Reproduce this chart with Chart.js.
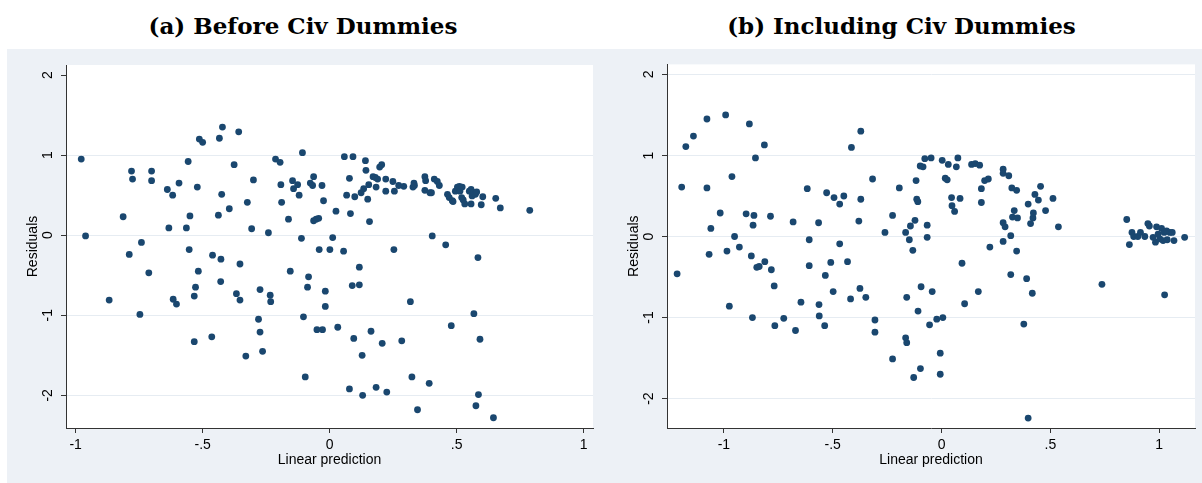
<!DOCTYPE html>
<html>
<head>
<meta charset="utf-8">
<script src="https://cdn.jsdelivr.net/npm/chart.js@4.4.1/dist/chart.umd.min.js"></script>
<style>
  html, body { margin: 0; padding: 0; background: #fff; }
  body { width: 1202px; height: 483px; position: relative; overflow: hidden; }
  .frame { position: absolute; left: 7px; top: 49px; width: 1195px; height: 434px; background: #edf1f6; }
  .title { position: absolute; top: 8px; text-align: center; font-family: "DejaVu Serif", serif;
           font-weight: bold; font-size: 23px; line-height: 36px; color: #000; }
  canvas { position: absolute; top: 49px; }
</style>
</head>
<body>
<div class="frame"></div>
<div class="title" style="left:0;width:606px">(a) Before Civ Dummies</div>
<div class="title" style="left:601px;width:601px">(b) Including Civ Dummies</div>
<canvas id="before" width="594" height="434" style="left:7px"></canvas>
<canvas id="civ" width="601" height="434" style="left:601px"></canvas>
<script>
const xTicks = [-1, -0.5, 0, 0.5, 1];
const xTickLabels = ['-1', '-.5', '0', '.5', '1'];
const yTicks = [-2, -1, 0, 1, 2];
const yTickLabels = ['-2', '-1', '0', '1', '2'];

// (a) before civ dummies
const beforeX = [
  -0.978, -0.961, -0.868, -0.813, -0.789, -0.780, -0.776, -0.747, -0.741, -0.712,
  -0.701, -0.701, -0.639, -0.633, -0.618, -0.616, -0.603, -0.593, -0.564, -0.557,
  -0.553, -0.550, -0.533, -0.533, -0.528, -0.521, -0.517, -0.513, -0.500, -0.464,
  -0.461, -0.438, -0.434, -0.429, -0.428, -0.425, -0.422, -0.395, -0.376, -0.367,
  -0.358, -0.353, -0.353,
  -0.330, -0.324, -0.307, -0.300, -0.280, -0.274, -0.274, -0.264, -0.241, -0.234,
  -0.232, -0.213, -0.195, -0.192, -0.189, -0.162, -0.155, -0.146, -0.142, -0.126,
  -0.120, -0.111, -0.107, -0.103, -0.096, -0.087, -0.083, -0.076, -0.067, -0.063,
  -0.063, -0.053, -0.043, -0.041, -0.050, -0.030, -0.028, -0.024, -0.017, -0.017,
  0.001, 0.012, 0.025, 0.032, 0.055, 0.058, 0.067, 0.078, 0.078, 0.082,
  0.089, 0.092, 0.095, 0.099, 0.117, 0.117, 0.124, 0.128, 0.130, 0.134,
  0.141, 0.143, 0.150, 0.154, 0.157, 0.163, 0.171, 0.180, 0.183, 0.183,
  0.189, 0.197, 0.205, 0.207, 0.221, 0.221, 0.225, 0.249, 0.253, 0.255,
  0.272, 0.284, 0.292, 0.318, 0.324, 0.328, 0.332, 0.334, 0.346,
  0.375, 0.378, 0.375, 0.392, 0.395, 0.401, 0.404, 0.412, 0.424, 0.432,
  0.457, 0.464, 0.471, 0.479, 0.483, 0.486, 0.495, 0.503, 0.511, 0.513,
  0.520, 0.522, 0.526, 0.532, 0.550, 0.557, 0.557, 0.561, 0.566, 0.568,
  0.574, 0.576, 0.579, 0.584, 0.586, 0.592, 0.597, 0.603, 0.645, 0.654,
  0.672, 0.788
];
const beforeY = [
  0.95, -0.01, -0.81, 0.23, -0.24, 0.80, 0.70, -0.99, -0.09, -0.47,
  0.80, 0.68, 0.57, 0.09, 0.50, -0.80, -0.86, 0.65, 0.09, 0.92,
  -0.18, 0.24, -0.76, -1.33, -0.65, 0.60, -0.45, 1.20, 1.16, -1.27,
  -0.25, 0.25, 1.21, -0.58, -0.30, 0.51, 1.35, 0.33, 0.88, -0.73,
  1.29, -0.36, -0.81,
  -1.51, 0.41, 0.08, 0.69, -1.05, -0.68, -1.21, -1.45, 0.03, -0.75,
  -0.83, 0.95, 0.91, 0.63, 0.41, 0.20, -0.45, 0.68, 0.58, 0.63,
  0.50, -0.04, 1.03, -1.02, -1.77, -0.65, -0.52, 0.65, 0.62, 0.73,
  0.18, 0.20, 0.21, -0.18, -1.18, 0.62, -1.18, 0.43, -0.70, -0.89,
  -0.18, -0.03, 0.30, -1.15, -0.20, 0.98, 0.50, 0.71, -1.92, 0.27,
  -0.63, 0.98, -1.29, 0.48, -0.40, -0.62, 0.53, -1.50, -2.00, 0.58,
  0.93, 0.81, 0.45, 0.63, 0.17, -1.20, 0.73, 0.72, -1.90, 0.60,
  0.70, 0.85, 0.88, -1.35, 0.70, 0.55, -1.96, 0.67, -0.18, 0.55,
  0.62, -1.32, 0.61, -0.83, -1.77, 0.60, 0.65, 0.62, -2.18,
  0.73, 0.68, 0.56, -1.85, 0.53, 0.53, -0.01, 0.70, 0.67, 0.62,
  -0.12, 0.51, 0.47, -1.13, 0.43, 0.42, 0.55, 0.60, 0.61, 0.55,
  0.47, 0.60, 0.44, 0.39, 0.55, 0.57, 0.39, 0.49, 0.53, -0.98,
  0.51, -2.13, 0.54, -0.28, -1.99, -1.30, 0.38, 0.48, -2.28, 0.46,
  0.34, 0.31
];

// (b) including civ dummies
const civX = [
  -1.215, -1.194, -1.175, -1.140, -1.078, -1.078, -1.068, -1.060, -1.017, -0.992,
  -0.986, -0.975, -0.963, -0.951, -0.929, -0.898, -0.883, -0.874, -0.869, -0.866,
  -0.862, -0.855, -0.849, -0.838, -0.814, -0.812, -0.786, -0.782, -0.769, -0.766,
  -0.725, -0.682, -0.671, -0.646, -0.617, -0.608, -0.608, -0.565, -0.563, -0.562,
  -0.537, -0.534, -0.528, -0.509, -0.498, -0.494,
  -0.468, -0.468, -0.449, -0.432, -0.418, -0.414, -0.380, -0.375, -0.371, -0.371,
  -0.348, -0.317, -0.306, -0.306, -0.260, -0.225, -0.225, -0.194, -0.165, -0.160,
  -0.165, -0.160, -0.148, -0.143, -0.132, -0.128, -0.122, -0.117, -0.114, -0.109,
  -0.108, -0.098, -0.097, -0.094, -0.085, -0.077, -0.066, -0.066, -0.055, -0.048,
  -0.043, -0.022, -0.006, -0.006, 0.003, 0.006, 0.017, 0.026, 0.031, 0.046,
  0.048, 0.060, 0.068, 0.075, 0.085, 0.094, 0.106, 0.138, 0.155, 0.169,
  0.175, 0.183, 0.183, 0.198, 0.215, 0.222, 0.283, 0.283, 0.283, 0.283,
  0.292, 0.309, 0.318, 0.318,
  0.323, 0.345, 0.334, 0.326, 0.349, 0.345, 0.378, 0.391, 0.398, 0.398,
  0.409, 0.417, 0.420, 0.422, 0.429, 0.445, 0.455, 0.478, 0.512, 0.537,
  0.737, 0.851, 0.863, 0.875, 0.883, 0.902, 0.914, 0.934, 0.948, 0.955,
  0.972, 0.983, 0.988, 0.995, 1.003, 1.011, 1.018, 1.023, 1.025, 1.034,
  1.037, 1.049, 1.060, 1.068, 1.117
];
const civY = [
  -0.46, 0.61, 1.11, 1.24, 1.45, 0.60, -0.22, 0.10, 0.29, 1.50,
  -0.18, -0.86, 0.74, 0.00, -0.13, 0.28, 1.39, -0.24, -1.00, 0.14,
  0.26, 0.97, -0.38, -0.37, 1.13, -0.31, 0.25, -0.41, -0.61, -1.10,
  -1.01, 0.18, -1.16, -0.81, 0.59, -0.04, -0.36, 0.17, -0.84, -0.98,
  -1.10, -0.48, 0.54, -0.32, -0.68, 0.48,
  0.40, -0.09, 0.50, -0.31, -0.77, 1.10, 0.19, -0.64, 1.30, 0.46,
  -0.75, 0.71, -1.03, -1.18, 0.05, 0.26, -1.51, 0.60, 0.05, -0.75,
  -1.25, -1.31, -0.04, 0.13, -0.17, -1.74, 0.20, 0.69, 0.46, 0.43,
  -0.92, 0.87, -1.63, -0.62, 0.86, 0.96, 0.14, -0.01, -1.09, 0.97,
  -0.68, -1.02, -1.44, -1.70, 0.94, -1.00, 0.72, 0.70, 0.89, 0.48,
  0.38, 0.31, 0.86, 0.97, 0.47, -0.33, -0.83, 0.89, 0.90, -0.68,
  0.88, 0.59, 0.42, 0.69, 0.71, -0.13, 0.83, 0.78, 0.17, -0.06,
  0.12, 0.75, -0.47, 0.01,
  0.60, 0.57, 0.32, 0.24, 0.23, -0.18, -1.08, -0.52, 0.40, -2.24,
  0.16, -0.70, 0.23, 0.29, 0.52, 0.45, 0.62, 0.32, 0.47, 0.12,
  -0.59, 0.21, -0.10, 0.05, 0.00, 0.00, 0.05, 0.00, 0.16, 0.13,
  -0.01, -0.07, 0.12, 0.03, -0.03, 0.10, -0.05, 0.05, -0.72, 0.07,
  -0.04, 0.05, 0.05, -0.05, -0.01
];

const navy = '#1a476f';
const axisCol = '#333';
const gridCol = '#e6ecf2';
const tickFont = { family: '"Liberation Sans", Arial, sans-serif', size: 14, lineHeight: 1.2 };
const titleFont = { family: '"Liberation Sans", Arial, sans-serif', size: 14, lineHeight: 1.2 };

const plotBg = {
  id: 'plotBg',
  beforeDraw(chart) {
    const { ctx, chartArea: a } = chart;
    ctx.save();
    ctx.fillStyle = '#fff';
    ctx.fillRect(a.left, a.top, a.right - a.left, a.bottom - a.top);
    ctx.restore();
  }
};

function newPanel(id, xs, ys, p) {
  return new Chart(document.getElementById(id), {
    type: 'scatter',
    data: {
      datasets: [{
        data: xs.map((x, i) => ({ x: x, y: ys[i] })),
        backgroundColor: navy,
        borderColor: navy,
        borderWidth: 0,
        pointRadius: 3.4,
        pointHoverRadius: 3.4
      }]
    },
    options: {
      responsive: false,
      animation: false,
      events: [],
      layout: { padding: { left: 0, top: p.top, right: p.right, bottom: 0 } },
      plugins: { legend: { display: false }, tooltip: { enabled: false } },
      scales: {
        x: {
          type: 'linear',
          min: p.xMin,
          max: p.xMax,
          afterBuildTicks: s => { s.ticks = xTicks.map(v => ({ value: v })); },
          afterFit: s => { s.height = 55; },
          grid: { drawOnChartArea: false, drawTicks: true, tickLength: 5, tickColor: axisCol },
          border: { color: axisCol, width: 1 },
          ticks: { font: tickFont, color: '#000', padding: 4, maxRotation: 0, autoSkip: false,
                   callback: (v, i) => xTickLabels[i] },
          title: { display: true, text: 'Linear prediction', font: titleFont, color: '#000',
                   padding: { top: 0, bottom: 14 } }
        },
        y: {
          type: 'linear',
          min: p.yMin,
          max: p.yMax,
          afterBuildTicks: s => { s.ticks = yTicks.map(v => ({ value: v })); },
          afterFit: s => { s.width = p.yWidth; },
          grid: {
            color: c => (p.noTopGrid && c.tick && c.tick.value === 2) ? 'rgba(0,0,0,0)' : gridCol,
            drawTicks: true, tickLength: 5, tickColor: axisCol
          },
          border: { color: axisCol, width: 1 },
          ticks: { font: tickFont, color: '#000', padding: 7, minRotation: 90, maxRotation: 90,
                   crossAlign: 'center', autoSkip: false, callback: (v, i) => yTickLabels[i] },
          title: { display: true, text: 'Residuals', font: titleFont, color: '#000',
                   padding: { top: p.titlePad, bottom: 0 } }
        }
      }
    },
    plugins: [plotBg]
  });
}

newPanel('before', beforeX, beforeY, {
  xMin: -1.038, xMax: 1.037, yMin: -2.408, yMax: 2.125,
  top: 16, right: 8, yWidth: 59, titlePad: 17.6, noTopGrid: true
});
newPanel('civ', civX, civY, {
  xMin: -1.2615, xMax: 1.1646, yMin: -2.363, yMax: 2.124,
  top: 15, right: 7, yWidth: 66, titlePad: 24.6, noTopGrid: false
});
</script>
</body>
</html>
